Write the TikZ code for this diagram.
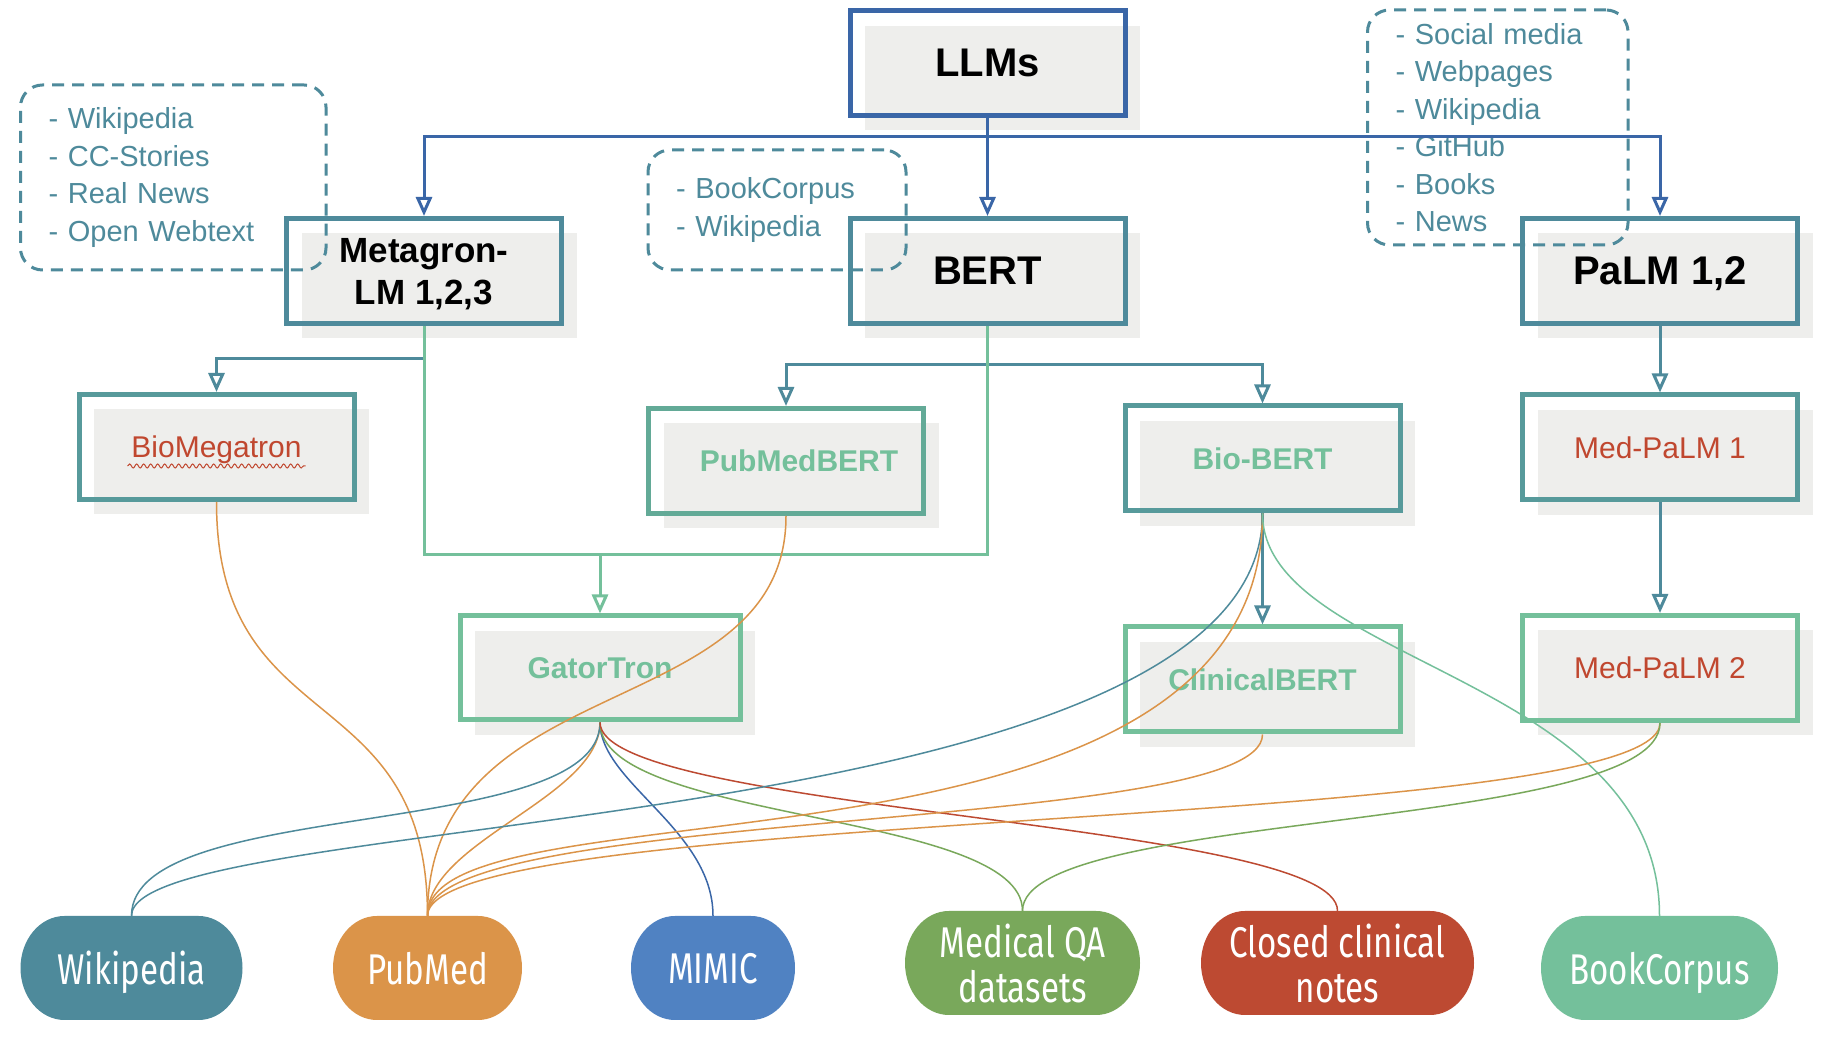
\documentclass[tikz,border=0pt]{standalone}
\usepackage{fontspec}
\setmainfont{Liberation Sans}
\newfontfamily\pillfont{Fira Sans}[FakeStretch=0.77]
\usetikzlibrary{arrows.meta,shadows,decorations.pathmorphing}

\definecolor{cblue}{HTML}{3A66A7}
\definecolor{cteal}{HTML}{4E8A9B}
\definecolor{cteal2}{HTML}{579A9B}
\definecolor{cmint}{HTML}{63AA97}
\definecolor{cgreen}{HTML}{74C09B}
\definecolor{cshade}{HTML}{EEEEEC}
\definecolor{cred}{HTML}{C0472F}
\definecolor{corange}{HTML}{DB9449}
\definecolor{cmimic}{HTML}{5082C2}
\definecolor{cqa}{HTML}{79A85B}
\definecolor{cnotes}{HTML}{BD4A32}

\begin{document}
\begin{tikzpicture}[x=1pt, y=1pt,
    model/.style={draw=#1, line width=5pt, minimum width=275pt, minimum height=105pt, inner sep=0pt, text depth=0pt,
                  drop shadow={shadow xshift=15pt, shadow yshift=-15pt, fill=cshade, opacity=1}},
    model/.default=cteal,
    bigtext/.style={font=\fontsize{40}{48}\selectfont\bfseries},
    redtext/.style={font=\fontsize{30}{36}\selectfont, text=cred},
    greentext/.style={font=\fontsize{30}{36}\selectfont\bfseries, text=cgreen},
    datalist/.style={draw=cteal, line width=3pt, dash pattern=on 12pt off 8pt, rounded corners=22pt,
                     text=cteal, align=left, inner xsep=28pt, font=\fontsize{29}{37.5}\selectfont},
    trunk/.style={draw=#1, line width=3pt},
    feed/.style={trunk=#1, -{Triangle[length=19pt, width=16pt, fill=white]}},
    corpus/.style={draw=#1, line width=1.5pt},
    source/.style 2 args={minimum width=#1, minimum height=104pt, inner sep=0pt, text depth=0pt, text=white, align=center,
                          font=\pillfont\fontsize{43}{45}\selectfont,
                          path picture={\fill[#2] ([xshift=44pt]path picture bounding box.north west)
                            -- ([xshift=-44pt]path picture bounding box.north east)
                            arc[start angle=90, end angle=-90, x radius=44pt, y radius=52pt]
                            -- ([xshift=44pt]path picture bounding box.south west)
                            arc[start angle=270, end angle=90, x radius=44pt, y radius=52pt] -- cycle;}}]

    \path[use as bounding box, fill=white] (0,0) rectangle (1834,1038);

    \node[model=cblue, minimum height=104.5pt, bigtext] (llm) at (987.5,975) {LLMs};
    \node[model, font=\fontsize{35}{42}\selectfont\bfseries, align=center] (meg) at (424,767) {Metagron-\\LM 1,2,3};
    \node[model, bigtext] (bert) at (987.5,767) {BERT};
    \node[model, bigtext] (palm) at (1660,767) {PaLM 1,2};
    \node[model=cteal2, redtext] (biomeg) at (216.5,591) {BioMegatron};
    \node[model=cmint, greentext] (pmbert) at (786,577) {\hspace*{26pt}PubMedBERT};
    \node[model=cteal2, greentext] (biobert) at (1262.5,579.5) {Bio-BERT};
    \node[model=cteal2, redtext] (medpalm1) at (1660,590.5) {Med-PaLM 1};
    \node[model=cgreen, greentext, minimum width=280pt, minimum height=104pt] (gator) at (600,370) {GatorTron};
    \node[model=cgreen, greentext] (clinbert) at (1262.5,358.5) {ClinicalBERT};
    \node[model=cgreen, redtext] (medpalm2) at (1660,370) {Med-PaLM 2};

    \node[datalist, text width=249.5pt, minimum height=185pt] (dataA) at (173.25,860.5)
        {- Wikipedia\\- CC-Stories\\- Real News\\- Open Webtext};
    \node[datalist, text width=202pt, minimum height=120pt] (dataB) at (777,828)
        {- BookCorpus\\- Wikipedia};
    \node[datalist, text width=204.5pt, minimum height=235pt] (dataC) at (1497.75,910.5)
        {- Social media\\- Webpages\\- Wikipedia\\- GitHub\\- Books\\- News};

    \draw[feed=cblue] (llm.south) -- ++(0,-19) -| (meg.north);
    \draw[feed=cblue] (llm.south) -- (bert.north);
    \draw[feed=cblue] (llm.south) -- ++(0,-19) -| (palm.north);
    \draw[feed=cteal] (meg.south) -- ++(0,-33) -| (biomeg.north);
    \draw[feed=cteal] (bert.south) -- ++(0,-38.5) -| (pmbert.north);
    \draw[feed=cteal] (bert.south) -- ++(0,-38.5) -| (biobert.north);
    \draw[trunk=cgreen] (meg.south) -- ++(0,-229) coordinate (gleft) -| (bert.south);
    \draw[feed=cgreen] (gator.north |- gleft) -- (gator.north);
    \draw[feed=cteal] (palm.south) -- (medpalm1.north);
    \draw[feed=cteal] (medpalm1.south) -- (medpalm2.north);
    \draw[feed=cteal] (biobert.south) -- (clinbert.north);

    \node[source={222pt}{cteal}] (wiki) at (131.5,70) {Wikipedia};
    \node[source={189pt}{corange}] (pubmedsrc) at (427.5,70) {PubMed};
    \node[source={164pt}{cmimic}] (mimic) at (713,70) {MIMIC};
    \node[source={235pt}{cqa}] (medqa) at (1022.5,75) {Medical QA\\datasets};
    \node[source={273pt}{cnotes}] (closed) at (1337.5,75) {Closed clinical\\notes};
    \node[source={237pt}{cgreen}] (bookc) at (1659.5,70) {BookCorpus};

    \foreach \src/\dst/\clr/\da/\db in {biomeg/pubmedsrc/corange/240/240, pmbert/pubmedsrc/corange/210/250,
        gator/pubmedsrc/corange/75/75, gator/wiki/cteal/120/120, gator/mimic/cblue/60/86,
        gator/medqa/cqa/100/100, gator/closed/cnotes/90/90, biobert/wiki/cteal/330/107,
        biobert/pubmedsrc/corange/390/140, biobert/bookc/cgreen/150/240, clinbert/pubmedsrc/corange/100/110,
        medpalm2/pubmedsrc/corange/110/110, medpalm2/medqa/cqa/109/101}
        \draw[corpus=\clr] (\src.south) .. controls +(0,-\da) and +(0,\db) .. (\dst.north);

    \draw[cred, line width=1pt, decorate, decoration={snake, amplitude=2pt, segment length=7pt}]
        ([shift={(-89,-19)}]biomeg.center) -- ([shift={(89,-19)}]biomeg.center);
\end{tikzpicture}
\end{document}
